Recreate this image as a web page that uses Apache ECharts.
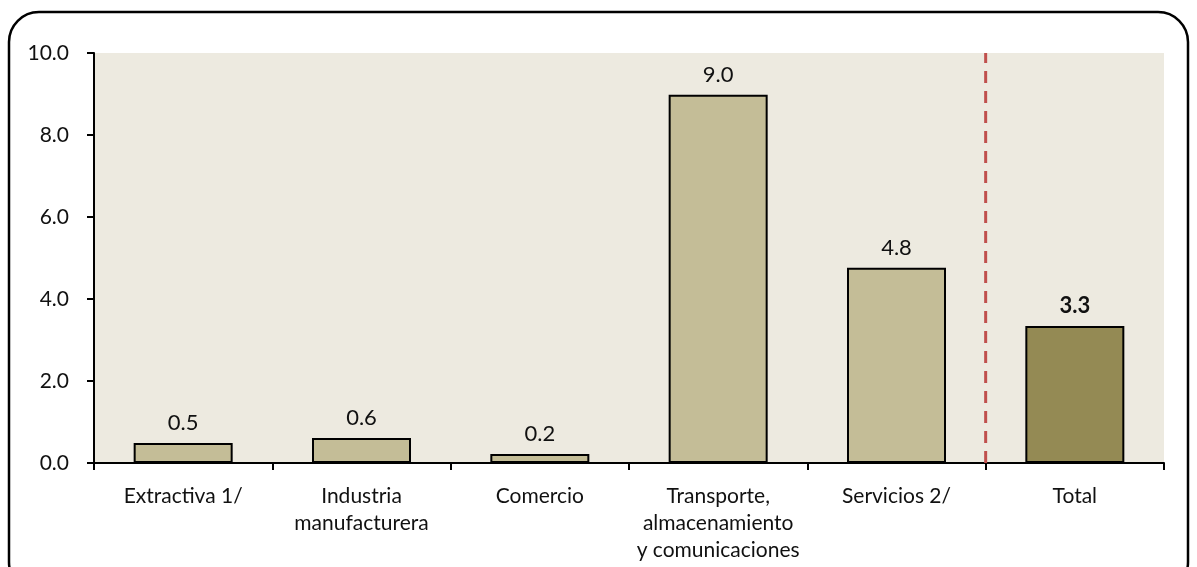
<!DOCTYPE html>
<html>
<head>
<meta charset="utf-8">
<script src="https://cdn.jsdelivr.net/npm/echarts@6/dist/echarts.min.js"></script>
<style>
  html, body { margin: 0; padding: 0; background: #fff; }
  #main { width: 1197px; height: 567px; }
</style>
</head>
<body>
<div id="main"></div>
<script>
// categorías y valores
const categories = ['Extractiva 1/', 'Industria\nmanufacturera', 'Comercio',
  'Transporte,\nalmacenamiento\ny comunicaciones', 'Servicios 2/', 'Total'];
const values = [0.49, 0.61, 0.22, 8.98, 4.76, 3.34];
const yTicks = [0, 2, 4, 6, 8, 10];
const separatorAt = 5; // línea entre Servicios y Total

const font = 'Lato, "Open Sans", sans-serif';

const myChart = echarts.init(document.getElementById('main'));

myChart.setOption({
  animation: false,
  textStyle: { fontFamily: font },
  grid: {
    left: 94, right: 33, top: 53, bottom: 104,
    show: true, backgroundColor: '#EDEAE0', borderWidth: 0
  },
  graphic: [{
    type: 'rect',
    shape: { x: 9, y: 12, width: 1179, height: 580, r: 30 },
    style: { fill: 'none', stroke: '#000', lineWidth: 2.5 },
    silent: true
  }],
  xAxis: [{
    type: 'category',
    data: categories,
    axisLine: { lineStyle: { color: '#000', width: 2 } },
    axisTick: { show: true, length: 7, lineStyle: { color: '#000', width: 2 } },
    axisLabel: { color: '#111', fontSize: 21, lineHeight: 27, margin: 20, interval: 0 }
  }, {
    type: 'value',
    min: 0, max: categories.length,
    show: false
  }],
  yAxis: {
    type: 'value',
    min: yTicks[0], max: yTicks[yTicks.length - 1], interval: 2,
    splitLine: { show: false },
    axisLine: { show: true, lineStyle: { color: '#000', width: 2 } },
    axisTick: { show: true, length: 7, lineStyle: { color: '#000', width: 2 } },
    axisLabel: {
      color: '#111', fontSize: 21, margin: 25,
      formatter: v => v.toFixed(1)
    }
  },
  series: [{
    type: 'bar',
    xAxisIndex: 0,
    barWidth: 99,
    data: values.map((v, i) => ({
      value: v,
      itemStyle: { color: i === values.length - 1 ? '#948A54' : '#C4BD97' },
      label: i === values.length - 1 ? { fontWeight: 'bold' } : {}
    })),
    itemStyle: { borderColor: '#000', borderWidth: 2 },
    label: {
      show: true, position: 'top', distance: 9,
      color: '#111', fontSize: 22,
      formatter: p => p.value.toFixed(1)
    }
  }, {
    type: 'line',
    xAxisIndex: 1,
    data: [[separatorAt, 0], [separatorAt, 10]],
    symbol: 'none',
    lineStyle: { color: '#C0504D', width: 3, type: [12, 8] },
    silent: true
  }]
});
</script>
</body>
</html>
